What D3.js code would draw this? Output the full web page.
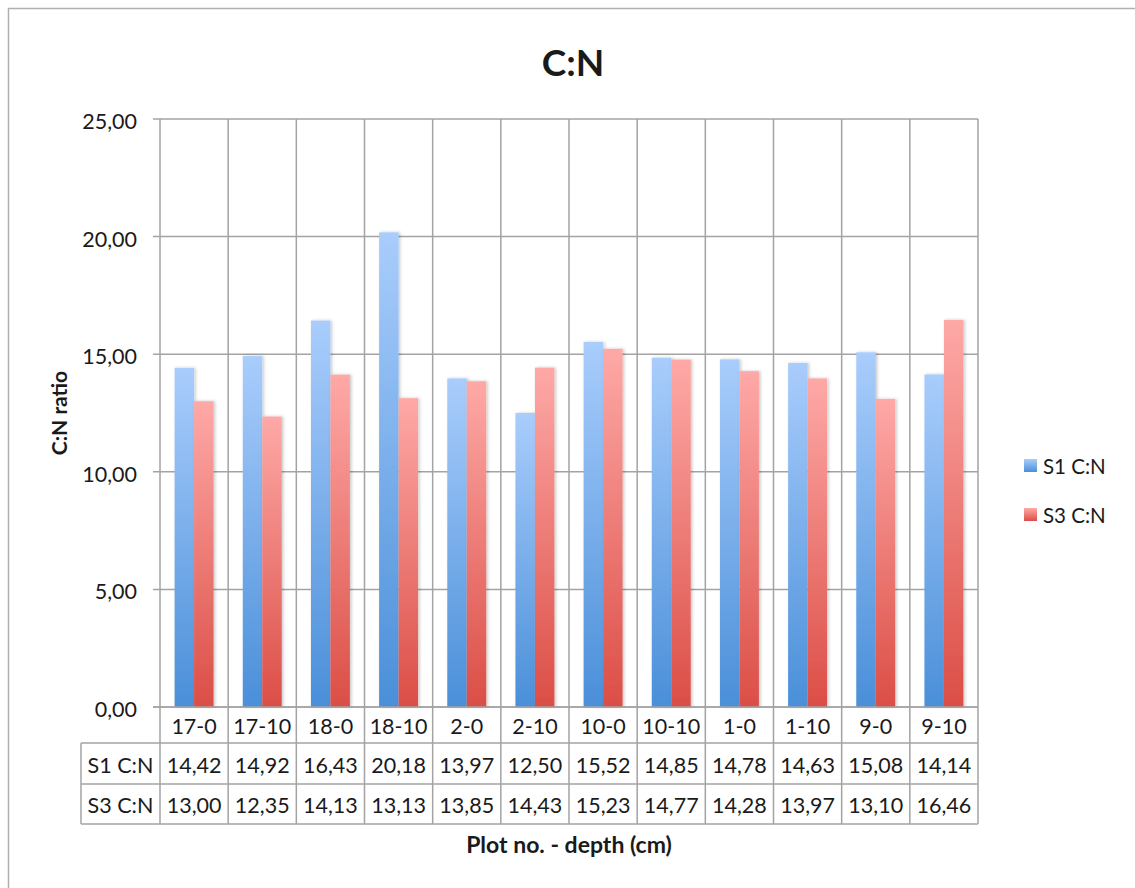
<!DOCTYPE html>
<html>
<head>
<meta charset="utf-8">
<script src="https://cdn.jsdelivr.net/npm/d3@7"></script>
<style>
  html, body { margin: 0; padding: 0; background: #fff; }
  svg { display: block; }
  text { font-family: Lato, "Open Sans", sans-serif; fill: #1a1a1a; }
</style>
</head>
<body>
<svg id="chart" width="1135" height="888"></svg>
<script>
// Plot no. - depth categories and C:N values for each sampling
const categories = ["17-0", "17-10", "18-0", "18-10", "2-0", "2-10", "10-0", "10-10", "1-0", "1-10", "9-0", "9-10"];
const seriesNames = ["S1 C:N", "S3 C:N"];
const s1Values = [14.42, 14.92, 16.43, 20.18, 13.97, 12.50, 15.52, 14.85, 14.78, 14.63, 15.08, 14.14];
const s3Values = [13.00, 12.35, 14.13, 13.13, 13.85, 14.43, 15.23, 14.77, 14.28, 13.97, 13.10, 16.46];
const yTicks = [0, 5, 10, 15, 20, 25];

const seriesValues = [s1Values, s3Values];
const fmt = v => d3.format(".2f")(v).replace(".", ",");

const svg = d3.select("#chart");
const gridColor = "#a3a3a3";
const labelSize = 21.5;

// outer chart frame
svg.append("rect")
  .attr("x", 8.5).attr("y", 8.5)
  .attr("width", 1140).attr("height", 900)
  .attr("fill", "none").attr("stroke", "#b0b0b0").attr("stroke-width", 1.5);

const plot = { left: 160, right: 978, top: 119, bottom: 707 };
const table = { labelLeft: 81, row1: 743, row2: 784, bottom: 824 };

const x = d3.scaleBand().domain(categories).range([plot.left, plot.right]);
const barW = x.bandwidth() / 3.5;
const xs = d3.scaleBand().domain(seriesNames)
  .range([barW * 0.75, x.bandwidth() - barW * 0.75]);
const y = d3.scaleLinear().domain([0, 25]).range([plot.bottom, plot.top]);

// gradients for each series
const defs = svg.append("defs");
const gradStops = [
  ["#a9cdfc", "#4a8fd9"],
  ["#fea9a7", "#db4e46"]
];
gradStops.forEach((c, i) => {
  const g = defs.append("linearGradient")
    .attr("id", "grad" + i).attr("x1", 0).attr("y1", 0).attr("x2", 0).attr("y2", 1);
  g.append("stop").attr("offset", "0%").attr("stop-color", c[0]);
  g.append("stop").attr("offset", "100%").attr("stop-color", c[1]);
});
const shadow = defs.append("filter").attr("id", "shadow")
  .attr("x", "-30%").attr("y", "-10%").attr("width", "160%").attr("height", "120%");
shadow.append("feDropShadow").attr("dx", 1.5).attr("dy", 0).attr("stdDeviation", 1.6)
  .attr("flood-color", "#000").attr("flood-opacity", 0.22);

// horizontal gridlines + y tick labels
const yAxis = svg.append("g");
yAxis.selectAll("line").data(yTicks).join("line")
  .attr("x1", plot.left - 7).attr("x2", plot.right)
  .attr("y1", d => y(d)).attr("y2", d => y(d))
  .attr("stroke", gridColor).attr("stroke-width", 1.5);
yAxis.selectAll("text").data(yTicks).join("text")
  .attr("x", 137).attr("y", d => y(d) + 10)
  .attr("text-anchor", "end").attr("font-size", labelSize)
  .text(d => fmt(d));

// vertical gridlines through plot and table
const vLines = categories.map(c => x(c)).concat([plot.right]);
svg.append("g").selectAll("line").data(vLines).join("line")
  .attr("x1", d => d).attr("x2", d => d)
  .attr("y1", plot.top).attr("y2", table.bottom)
  .attr("stroke", gridColor).attr("stroke-width", 1.5);

// bars
const bars = svg.append("g");
seriesNames.forEach((name, si) => {
  bars.append("g").selectAll("rect").data(categories).join("rect")
    .attr("x", c => x(c) + xs(name))
    .attr("width", xs.bandwidth())
    .attr("y", (c, i) => y(seriesValues[si][i]))
    .attr("height", (c, i) => y(0) - y(seriesValues[si][i]))
    .attr("fill", "url(#grad" + si + ")")
    .attr("filter", "url(#shadow)");
});

// axis line on top of bars
svg.append("line")
  .attr("x1", plot.left - 7).attr("x2", plot.right)
  .attr("y1", plot.bottom).attr("y2", plot.bottom)
  .attr("stroke", gridColor).attr("stroke-width", 1.5);

// data table lines
const tbl = svg.append("g").attr("stroke", gridColor).attr("stroke-width", 1.5);
[table.row1, table.row2, table.bottom].forEach(yy => {
  tbl.append("line").attr("x1", table.labelLeft).attr("x2", plot.right)
    .attr("y1", yy).attr("y2", yy);
});
tbl.append("line").attr("x1", table.labelLeft).attr("x2", table.labelLeft)
  .attr("y1", table.row1).attr("y2", table.bottom);

// category labels
svg.append("g").selectAll("text").data(categories).join("text")
  .attr("x", c => x(c) + x.bandwidth() / 2)
  .attr("y", (plot.bottom + table.row1) / 2 + 9)
  .attr("text-anchor", "middle").attr("font-size", labelSize)
  .text(c => c);

// table rows with series values
const rowBounds = [[table.row1, table.row2], [table.row2, table.bottom]];
seriesNames.forEach((name, si) => {
  const cy = (rowBounds[si][0] + rowBounds[si][1]) / 2 + 9;
  svg.append("text")
    .attr("x", (table.labelLeft + plot.left) / 2).attr("y", cy)
    .attr("text-anchor", "middle").attr("font-size", labelSize)
    .text(name);
  svg.append("g").selectAll("text").data(categories).join("text")
    .attr("x", c => x(c) + x.bandwidth() / 2)
    .attr("y", cy)
    .attr("text-anchor", "middle").attr("font-size", labelSize)
    .text((c, i) => fmt(seriesValues[si][i]));
});

// title
svg.append("text")
  .attr("x", 573).attr("y", 76)
  .attr("text-anchor", "middle").attr("font-size", 37).attr("font-weight", "bold")
  .text("C:N");

// axis titles
svg.append("text")
  .attr("transform", `translate(67, ${(plot.top + plot.bottom) / 2}) rotate(-90)`)
  .attr("text-anchor", "middle").attr("font-size", 21).attr("font-weight", "bold")
  .text("C:N ratio");
svg.append("text")
  .attr("x", 569).attr("y", 853)
  .attr("text-anchor", "middle").attr("font-size", 23).attr("font-weight", "bold")
  .text("Plot no. - depth (cm)");

// legend
const legend = svg.append("g");
seriesNames.forEach((name, si) => {
  const ly = 466 + si * 49;
  legend.append("rect")
    .attr("x", 1024).attr("y", ly - 7).attr("width", 13).attr("height", 13)
    .attr("fill", "url(#grad" + si + ")");
  legend.append("text")
    .attr("x", 1043).attr("y", ly + 8)
    .attr("font-size", 20.5)
    .text(name);
});
</script>
</body>
</html>
